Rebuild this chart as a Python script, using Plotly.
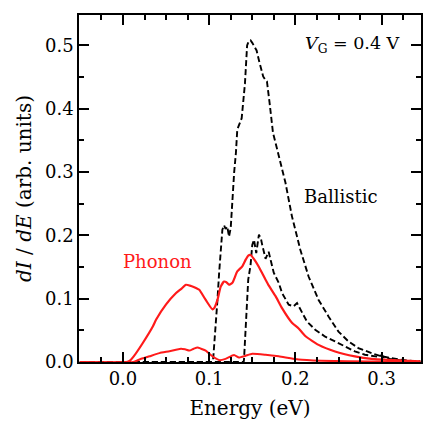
import plotly.graph_objects as go

# ---------------- data ----------------
ballistic_a_x = [-0.05, 0.103, 0.1046, 0.1058, 0.108, 0.1096, 0.1115, 0.1134, 0.1153, 0.1173, 0.119, 0.121,
                 0.123, 0.125, 0.1269, 0.129, 0.131, 0.1326, 0.134, 0.1377, 0.1415, 0.144, 0.146, 0.148,
                 0.150, 0.152, 0.155, 0.158, 0.1626, 0.1654, 0.167, 0.170, 0.174, 0.179, 0.1885, 0.196,
                 0.2058, 0.2153, 0.2269, 0.2384, 0.25, 0.2615, 0.273, 0.2807, 0.29, 0.30, 0.31, 0.32,
                 0.332, 0.345]
ballistic_a_y = [0.0, 0.0, 0.004, 0.025, 0.056, 0.098, 0.14, 0.177, 0.209, 0.216, 0.210, 0.214,
                 0.198, 0.212, 0.256, 0.30, 0.33, 0.367, 0.372, 0.385, 0.44, 0.50, 0.507, 0.508,
                 0.504, 0.500, 0.492, 0.475, 0.451, 0.445, 0.443, 0.41, 0.362, 0.335, 0.283, 0.23,
                 0.177, 0.135, 0.098, 0.072, 0.048, 0.0325, 0.022, 0.018, 0.013, 0.009, 0.006, 0.004,
                 0.002, 0.001]

ballistic_b_x = [-0.05, 0.140, 0.1404, 0.1423, 0.1442, 0.1453, 0.148, 0.150, 0.152, 0.1546, 0.1577, 0.160,
                 0.1615, 0.1654, 0.169, 0.172, 0.1749, 0.1807, 0.1845, 0.1922, 0.198, 0.2019, 0.2057,
                 0.2134, 0.223, 0.2346, 0.246, 0.2577, 0.269, 0.2807, 0.29, 0.297, 0.300, 0.303, 0.31,
                 0.319, 0.33, 0.345]
ballistic_b_y = [0.0, 0.0, 0.004, 0.056, 0.104, 0.13, 0.153, 0.185, 0.193, 0.172, 0.201, 0.195,
                 0.185, 0.163, 0.174, 0.155, 0.141, 0.125, 0.109, 0.0905, 0.088, 0.093, 0.083,
                 0.064, 0.051, 0.040, 0.0325, 0.0246, 0.0167, 0.0115, 0.009, 0.008, 0.011, 0.007, 0.005,
                 0.003, 0.001, 0.0]

phonon_a_x = [-0.05, 0.004, 0.008, 0.012, 0.023, 0.0346, 0.0385, 0.05, 0.0616, 0.068, 0.073, 0.079,
              0.0847, 0.0885, 0.096, 0.1038, 0.1058, 0.1096, 0.1134, 0.1173, 0.120, 0.123, 0.1269,
              0.1326, 0.1384, 0.1425, 0.1453, 0.148, 0.1538, 0.1577, 0.1654, 0.169, 0.177, 0.1845,
              0.196, 0.2038, 0.2115, 0.2269, 0.246, 0.269, 0.2884, 0.319, 0.345]
phonon_a_y = [0.0, 0.0, 0.002, 0.008, 0.03, 0.056, 0.067, 0.091, 0.109, 0.116, 0.122, 0.120,
              0.117, 0.114, 0.098, 0.083, 0.085, 0.098, 0.119, 0.127, 0.126, 0.122, 0.125,
              0.143, 0.151, 0.162, 0.168, 0.169, 0.159, 0.15, 0.13, 0.121, 0.104, 0.085,
              0.062, 0.053, 0.041, 0.027, 0.0167, 0.009, 0.005, 0.0025, 0.001]

phonon_b_x = [-0.05, 0.012, 0.0193, 0.0308, 0.0423, 0.0539, 0.0673, 0.072, 0.077, 0.082, 0.0865, 0.0905,
              0.096, 0.1038, 0.1115, 0.119, 0.1288, 0.1346, 0.1423, 0.150, 0.1654, 0.1807, 0.2038,
              0.23, 0.26, 0.345]
phonon_b_y = [0.0, 0.0, 0.004, 0.009, 0.014, 0.017, 0.021, 0.020, 0.018, 0.021, 0.023, 0.021,
              0.018, 0.009, 0.003, 0.005, 0.011, 0.007, 0.010, 0.013, 0.0115, 0.009, 0.004,
              0.002, 0.001, 0.0]

x_tick_vals = [0.0, 0.1, 0.2, 0.3]
x_tick_text = ["0.0", "0.1", "0.2", "0.3"]
y_tick_vals = [0.0, 0.1, 0.2, 0.3, 0.4, 0.5]
y_tick_text = ["0.0", "0.1", "0.2", "0.3", "0.4", "0.5"]

FONT = "DejaVu Serif"
RED = "#ff1a1a"

fig = go.Figure()
dash = "6px,3px"
fig.add_trace(go.Scatter(x=ballistic_a_x, y=ballistic_a_y, mode="lines",
                         line=dict(color="black", width=1.9, dash=dash)))
fig.add_trace(go.Scatter(x=ballistic_b_x, y=ballistic_b_y, mode="lines",
                         line=dict(color="black", width=1.9, dash=dash)))
fig.add_trace(go.Scatter(x=phonon_a_x, y=phonon_a_y, mode="lines",
                         line=dict(color=RED, width=2.2, shape="spline", smoothing=0.5)))
fig.add_trace(go.Scatter(x=phonon_b_x, y=phonon_b_y, mode="lines",
                         line=dict(color=RED, width=2.0, shape="spline", smoothing=0.5)))

axis_common = dict(
    showgrid=False, zeroline=False, showline=True, linecolor="black", linewidth=1.5,
    ticks="inside", ticklen=10, tickwidth=1.5, tickcolor="black", mirror="allticks",
    tickfont=dict(family=FONT, size=18, color="black"),
)

fig.update_xaxes(
    range=[-0.051, 0.3457], tickvals=x_tick_vals, ticktext=x_tick_text,
    minor=dict(dtick=0.025, tick0=0, ticklen=5, tickwidth=1.5, tickcolor="black", ticks="inside"),
    title=dict(text="Energy (eV)", font=dict(family=FONT, size=20, color="black"), standoff=13),
    **axis_common,
)
fig.update_yaxes(
    range=[0, 0.548], tickvals=y_tick_vals, ticktext=y_tick_text,
    minor=dict(dtick=0.05, tick0=0, ticklen=5, tickwidth=1.5, tickcolor="black", ticks="inside"),
    title=dict(text="<i>dI</i> / <i>dE</i> (arb. units)", font=dict(family=FONT, size=20, color="black"),
               standoff=8),
    **axis_common,
)

fig.add_annotation(x=0.324, y=0.501, xref="x", yref="y", xanchor="right", yanchor="middle",
                   text="<i>V</i><sub>G</sub> = 0.4 V", showarrow=False,
                   font=dict(family=FONT, size=17.5, color="black"))
fig.add_annotation(x=0.2534, y=0.261, xref="x", yref="y", xanchor="center", yanchor="middle",
                   text="Ballistic", showarrow=False,
                   font=dict(family=FONT, size=18, color="black"))
fig.add_annotation(x=0.0395, y=0.158, xref="x", yref="y", xanchor="center", yanchor="middle",
                   text="Phonon", showarrow=False,
                   font=dict(family=FONT, size=18, color=RED))

fig.update_layout(
    width=423, height=421,
    margin=dict(l=79, r=0, t=15, b=59),
    paper_bgcolor="white", plot_bgcolor="white",
    showlegend=False,
)

fig.write_html("out.html")
